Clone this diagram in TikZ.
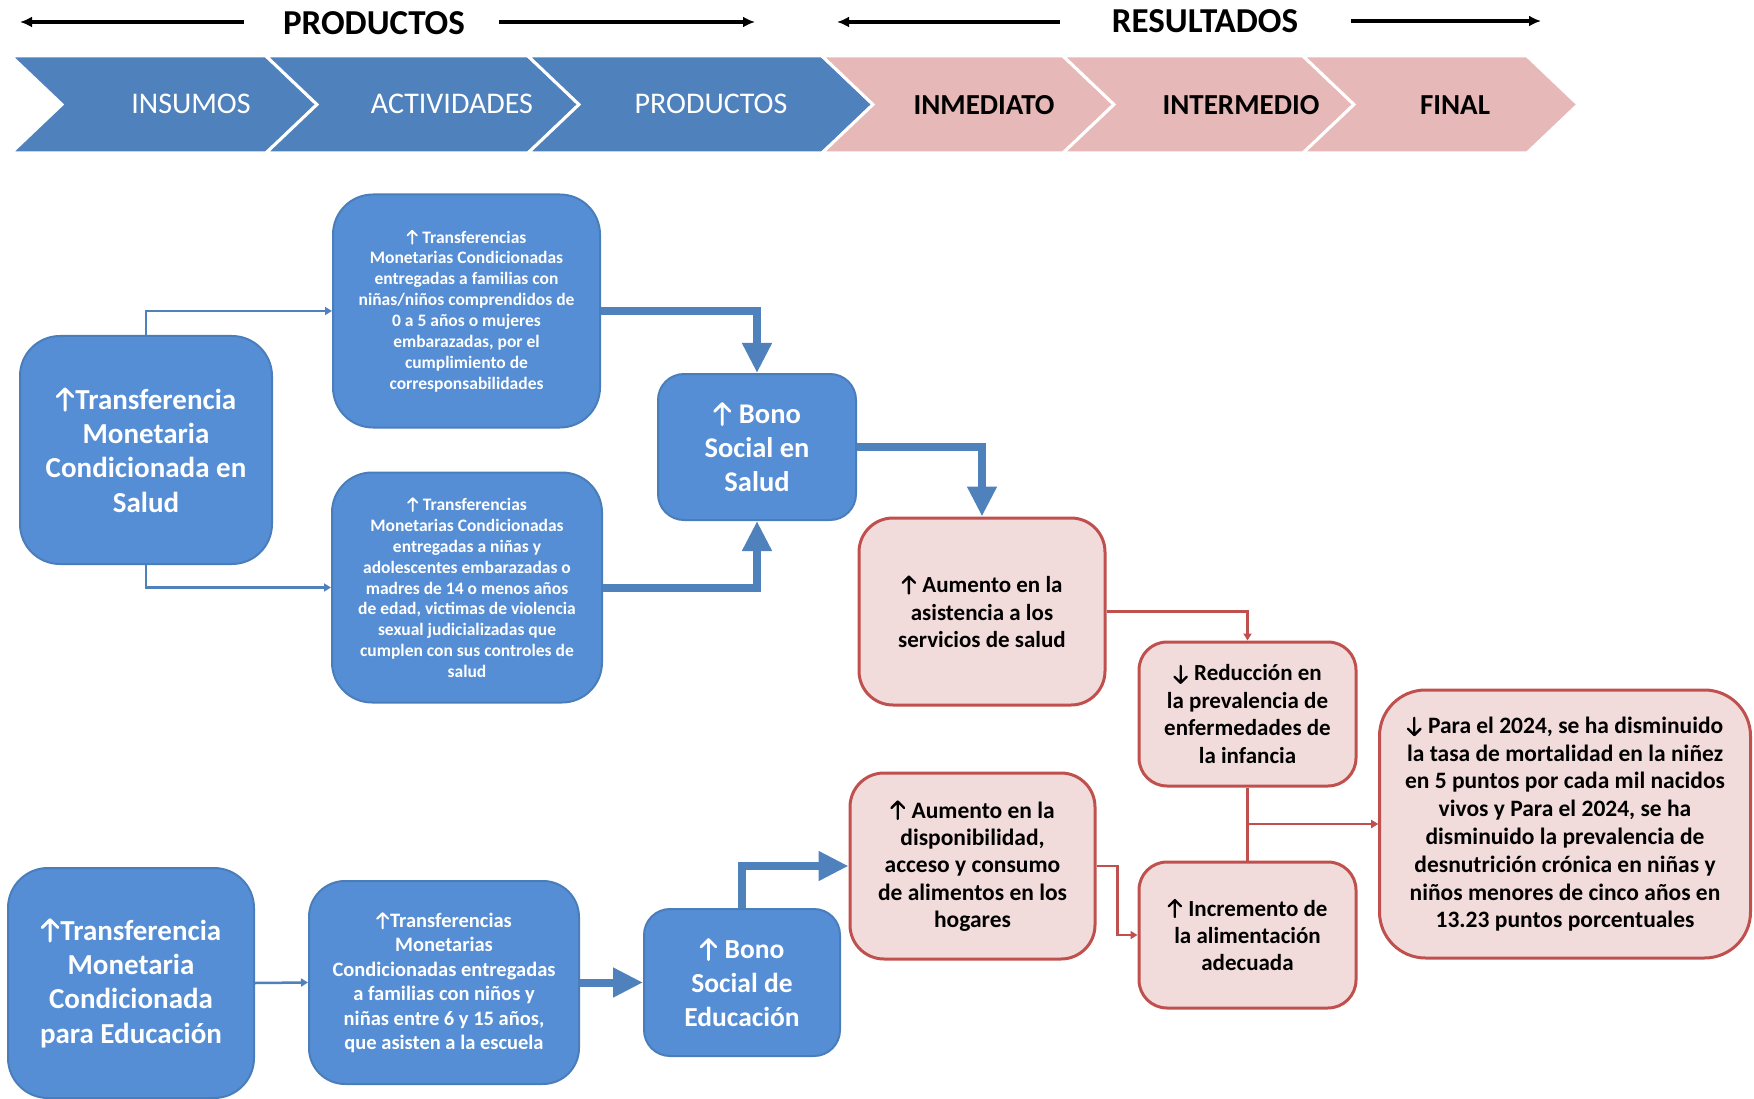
\documentclass[tikz,border=0pt]{standalone}
\usepackage{fontspec}
\setmainfont{Carlito}
\usetikzlibrary{arrows.meta}
\definecolor{chevblue}{HTML}{4F81BD}
\definecolor{chevpink}{HTML}{E6B9B8}
\definecolor{boxblue}{HTML}{558ED5}
\definecolor{boxblueline}{HTML}{4A7EBB}
\definecolor{boxpink}{HTML}{F2DCDB}
\definecolor{boxred}{HTML}{C0504D}
\tikzset{glypharrow/.style={sharp corners, solid, fill=none, draw=., line width=0.1em, line cap=round, line join=round}}
\newcommand{\UpArr}{\tikz[baseline=0pt,x=1em,y=1em,sharp corners]\draw[glypharrow] (0.32,-0.04) -- (0.32,0.70) (0.05,0.43) -- (0.32,0.70) -- (0.59,0.43);\hspace{0.04em}}
\newcommand{\DnArr}{\tikz[baseline=0pt,x=1em,y=1em,sharp corners]\draw[glypharrow] (0.32,0.66) -- (0.32,-0.08) (0.05,0.19) -- (0.32,-0.08) -- (0.59,0.19);\hspace{0.04em}}
\newcommand{\fs}[2]{\fontsize{#1}{#2}\selectfont}
\begin{document}
\begin{tikzpicture}[x=1pt,y=-1pt,
  bluebox/.style={draw=boxblueline, fill=boxblue, line width=2pt, rounded corners=#1, text=white, align=center, inner sep=0pt},
  bluebox/.default=38pt,
  pinkbox/.style={draw=boxred, fill=boxpink, line width=3pt, rounded corners=#1, text=black, align=center, inner sep=0pt},
  pinkbox/.default=32pt,
  chevb/.style={fill=chevblue, draw=white, line width=3pt, line join=miter},
  chevp/.style={fill=chevpink, draw=white, line width=3pt, line join=miter},
  hdr/.style={font=\fs{35}{40}\bfseries, inner sep=0pt},
  hdrarrow/.style={line width=3.5pt, -{Latex[length=12pt,width=11pt]}},
  thinblue/.style={draw=chevblue, line width=2.5pt, -{Triangle[length=7pt,width=8pt]}},
  thinred/.style={draw=boxred, line width=2.5pt, -{Triangle[length=7pt,width=8pt]}},
  thickblue/.style={draw=chevblue, line width=8pt, -{Triangle[length=30pt,width=28pt]}},
]
\useasboundingbox (0,0) rectangle (1754,1099);

% header
\node[hdr] (hp) at (374,23) {PRODUCTOS};
\node[hdr] (hr) at (1205,21) {RESULTADOS};
\coordinate (hp1) at (20,22);  \coordinate (hp2) at (244,22);
\coordinate (hp3) at (499,22); \coordinate (hp4) at (755,22);
\coordinate (hr1) at (837,22); \coordinate (hr2) at (1060,22);
\coordinate (hr3) at (1351,21);\coordinate (hr4) at (1541,21);
\draw[hdrarrow] (hp2) -- (hp1);
\draw[hdrarrow] (hp3) -- (hp4);
\draw[hdrarrow] (hr2) -- (hr1);
\draw[hdrarrow] (hr3) -- (hr4);

% chevrons
\def\T{56}\def\B{153}\def\M{104.5}\def\dd{51}
\draw[chevb] (11,\T) -- (266,\T) -- (266+\dd,\M) -- (266,\B) -- (11,\B) -- (11+\dd,\M) -- cycle;
\draw[chevb] (266,\T) -- (528,\T) -- (528+\dd,\M) -- (528,\B) -- (266,\B) -- (266+\dd,\M) -- cycle;
\draw[chevb] (528,\T) -- (822,\T) -- (822+\dd,\M) -- (822,\B) -- (528,\B) -- (528+\dd,\M) -- cycle;
\draw[chevp] (822,\T) -- (1063,\T) -- (1063+\dd,\M) -- (1063,\B) -- (822,\B) -- (822+\dd,\M) -- cycle;
\draw[chevp] (1063,\T) -- (1303,\T) -- (1303+\dd,\M) -- (1303,\B) -- (1063,\B) -- (1063+\dd,\M) -- cycle;
\draw[chevp] (1303,\T) -- (1527,\T) -- (1527+\dd,\M) -- (1527,\B) -- (1303,\B) -- (1303+\dd,\M) -- cycle;
\node[text=white, font=\fs{30}{36}] (c1) at (191,104) {INSUMOS};
\node[text=white, font=\fs{30}{36}] (c2) at (452,104) {ACTIVIDADES};
\node[text=white, font=\fs{30}{36}] (c3) at (711,104) {PRODUCTOS};
\node[font=\fs{29}{35}\bfseries] (c4) at (984,105) {INMEDIATO};
\node[font=\fs{29}{35}\bfseries] (c5) at (1241,105) {INTERMEDIO};
\node[font=\fs{29}{35}\bfseries] (c6) at (1455,105) {FINAL};

% blue boxes
\node[bluebox=40pt, minimum width=252pt, minimum height=228pt, font=\fs{29}{34.4}\bfseries] (A) at (146,450)
  {\UpArr Transferencia\\Monetaria\\Condicionada en\\Salud};
\node[bluebox=40pt, minimum width=267pt, minimum height=233pt, font=\fs{17.5}{20.9}\bfseries] (B) at (466.5,311)
  {\UpArr\ Transferencias\\Monetarias Condicionadas\\entregadas a familias con\\niñas/niños comprendidos de\\0 a 5 años o mujeres\\embarazadas, por el\\cumplimiento de\\corresponsabilidades};
\node[bluebox=40pt, minimum width=270pt, minimum height=230pt, font=\fs{17.5}{20.9}\bfseries] (C) at (467,587.5)
  {\UpArr\ Transferencias\\Monetarias Condicionadas\\entregadas a niñas y\\adolescentes embarazadas o\\madres de 14 o menos años\\de edad, victimas de violencia\\sexual judicializadas que\\cumplen con sus controles de\\salud};
\node[bluebox=26pt, minimum width=198pt, minimum height=146pt, font=\fs{28.5}{34}\bfseries] (D) at (757,447)
  {\UpArr\ Bono\\Social en\\Salud};
\node[bluebox=40pt, minimum width=246pt, minimum height=230pt, font=\fs{29}{34.4}\bfseries] (J) at (131,983)
  {\UpArr Transferencia\\Monetaria\\Condicionada\\para Educación};
\node[bluebox=36pt, minimum width=270pt, minimum height=203pt, font=\fs{20.5}{24.4}\bfseries] (K) at (444,982.5)
  {\UpArr Transferencias\\Monetarias\\Condicionadas entregadas\\a familias con niños y\\niñas entre 6 y 15 años,\\que asisten a la escuela};
\node[bluebox=26pt, minimum width=196pt, minimum height=147pt, font=\fs{27.5}{34}\bfseries] (L) at (742,982.5)
  {\UpArr\ Bono\\Social de\\Educación};

% pink boxes
\node[pinkbox=34pt, minimum width=246pt, minimum height=187pt, font=\fs{23}{27.4}\bfseries] (E) at (982,611.5)
  {\UpArr\ Aumento en la\\asistencia a los\\servicios de salud};
\node[pinkbox=28pt, minimum width=217pt, minimum height=144pt, font=\fs{23}{27.4}\bfseries] (F) at (1247.5,714)
  {\DnArr\ Reducción en\\la prevalencia de\\enfermedades de\\la infancia};
\node[pinkbox=34pt, minimum width=245pt, minimum height=186pt, font=\fs{23.5}{27.4}\bfseries] (G) at (972.5,866)
  {\UpArr\ Aumento en la\\disponibilidad,\\acceso y consumo\\de alimentos en los\\hogares};
\node[pinkbox=28pt, minimum width=217pt, minimum height=146pt, font=\fs{23}{27.4}\bfseries] (H) at (1247.5,935)
  {\UpArr\ Incremento de\\la alimentación\\adecuada};
\node[pinkbox=46pt, minimum width=371pt, minimum height=268pt, font=\fs{23.5}{27.8}\bfseries] (I) at (1565,824)
  {\DnArr\ Para el 2024, se ha disminuido\\la tasa de mortalidad en la niñez\\en 5 puntos por cada mil nacidos\\vivos y Para el 2024, se ha\\disminuido la prevalencia de\\desnutrición crónica en niñas y\\niños menores de cinco años en\\13.23 puntos porcentuales};

% connectors
\draw[thinblue] (A.north) |- (B.west);
\draw[thinblue] (A.south) |- (C.west);
\draw[thickblue] (B.east) -| (D.north);
\draw[thickblue] (C.east) -| (D.south);
\draw[thickblue] (D.east) -| (E.north);
\draw[thinred] (E.east) -| (F.north);
\draw[thinred] (F.south) |- (I.west);
\draw[thinred] (H.north) |- (I.west);
\draw[thinred] (G.east) -- ++(21,0) |- (H.west);
\draw[thinblue] (J.east) -- (K.west);
\draw[thickblue] (K.east) -- (L.west);
\draw[thickblue] (L.north) |- (G.west);
\end{tikzpicture}
\end{document}
